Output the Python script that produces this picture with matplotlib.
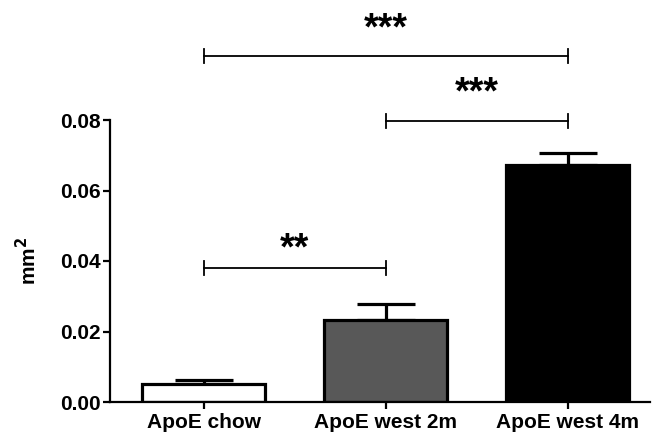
import matplotlib
matplotlib.use("Agg")
import matplotlib.pyplot as plt

categories = ["ApoE chow", "ApoE west 2m", "ApoE west 4m"]
means = [0.0051, 0.0232, 0.0672]
sems = [0.0012, 0.0046, 0.0034]
colors = ["white", "#585858", "black"]
# significance brackets: (i, j, y, label, label_y)
brackets = [(0, 1, 0.0381, "**", 0.0434), (1, 2, 0.0796, "***", 0.0874),
            (0, 2, 0.0982, "***", 0.1058)]
yticks = [0.00, 0.02, 0.04, 0.06, 0.08]

plt.rcParams['font.family'] = ['Liberation Sans', 'DejaVu Sans']
plt.rcParams['font.weight'] = 'bold'

fig = plt.figure(figsize=(6.6, 4.32), dpi=100)
ax = fig.add_axes([110/660, 30/432, 540/660, 282/432])

x = list(range(len(categories)))
ax.bar(x, means, width=0.675, color=colors, edgecolor="black", linewidth=2.3, zorder=2)
ax.errorbar(x, means, yerr=[[0]*3, sems], fmt="none", ecolor="black",
            elinewidth=2.3, capsize=21, capthick=2.3, zorder=1)

ax.set_xlim(-0.516, 2.451)
ax.set_ylim(0, 0.08)
ax.set_xticks(x)
ax.set_xticklabels(categories, fontsize=15, fontweight="bold")
ax.set_yticks(yticks)
ax.set_yticklabels([f"{v:.2f}" for v in yticks], fontsize=15, fontweight="bold")
ax.tick_params(axis="both", direction="out", length=5, width=1.6, pad=2)
ax.tick_params(axis="x", pad=3)
for s in ["top", "right"]:
    ax.spines[s].set_visible(False)
for s in ["left", "bottom"]:
    ax.spines[s].set_linewidth(1.6)
ax.set_ylabel("mm$^\\mathbf{2}$", fontsize=15, fontweight="bold", labelpad=14)

for i, j, y, lab, ly in brackets:
    ax.plot([i, j], [y, y], color="black", lw=1.3, clip_on=False)
    for xx in (i, j):
        ax.plot([xx, xx], [y - 0.002, y + 0.002], color="black", lw=1.3, clip_on=False)
    ax.text((i + j) / 2, ly, lab, ha="center", va="center", fontsize=27,
            fontweight="bold", clip_on=False)

fig.savefig("out.png", dpi=100)
